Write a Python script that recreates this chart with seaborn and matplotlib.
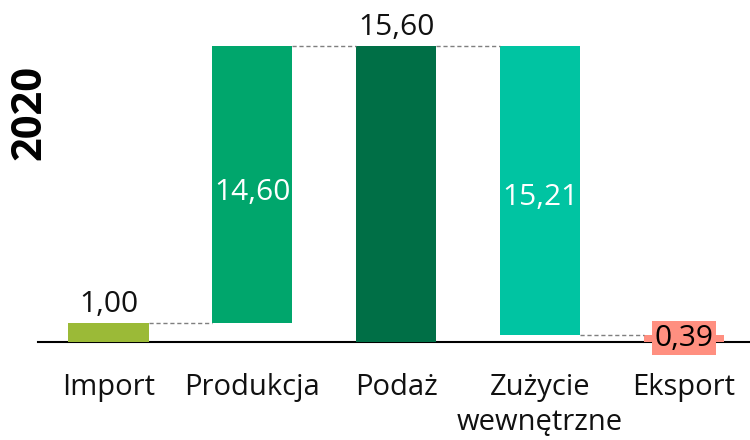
import matplotlib
matplotlib.use("Agg")
import matplotlib.pyplot as plt
import seaborn as sns

# dane bilansu (2020)
kategorie = ["Import", "Produkcja", "Podaż", "Zużycie\nwewnętrzne", "Eksport"]
wysokosci = [1.00, 14.60, 15.60, 15.21, 0.39]
podstawy = [0.00, 1.00, 0.00, 0.39, 0.00]
etykiety = ["1,00", "14,60", "15,60", "15,21", "0,39"]
kolory = ["#9BBA37", "#00A66C", "#006F46", "#00C4A2", "#FF8F80"]
rok = "2020"


def main():
    sns.set_theme(style="white")
    plt.rcParams["font.family"] = ["Open Sans", "DejaVu Sans"]

    fig = plt.figure(figsize=(7.5, 4.4), dpi=100)
    ax = fig.add_axes([38 / 750, 98 / 440, 712 / 750, 342 / 440])

    szer = 0.557
    sns.barplot(x=kategorie, y=wysokosci, bottom=podstawy, width=szer,
                color="gray", ax=ax, linewidth=0)
    for patch, kol in zip(ax.patches, kolory):
        patch.set_facecolor(kol)
        patch.set_edgecolor("none")

    ax.set_xlim(-0.49, 4.46)
    ax.set_ylim(0, 18.03)

    # linie łączące
    for i in range(len(wysokosci) - 1):
        if i == 3:
            poziom = podstawy[i]
        else:
            poziom = podstawy[i] + wysokosci[i]
        ax.plot([i + szer / 2, i + 1 - szer / 2], [poziom, poziom],
                color="#7F7F7F", linestyle=(0, (3, 2)), linewidth=1)

    # etykiety wartości
    for i, (h, b, lab) in enumerate(zip(wysokosci, podstawy, etykiety)):
        if i in (1, 3):
            ax.text(i, b + h / 2 - 0.4, lab, ha="center", va="center",
                    color="white", fontsize=21.5)
        elif i == 4:
            ax.text(i, b + h / 2, lab, ha="center", va="center",
                    color="black", fontsize=21.5, clip_on=False,
                    bbox=dict(boxstyle="square,pad=0.08", fc=kolory[4], ec="none"))
        else:
            ax.annotate(lab, (i, b + h), xytext=(0, 3), textcoords="offset points",
                        ha="center", va="bottom", fontsize=21.5, color="#111111")

    ax.set_yticks([])
    ax.set_ylabel("")
    ax.tick_params(axis="x", length=0, pad=22, labelsize=21, labelcolor="#111111")
    for t in ax.get_xticklabels():
        t.set_linespacing(1.3)
        t.set_verticalalignment("top")
    for s in ["top", "right", "left"]:
        ax.spines[s].set_visible(False)
    ax.spines["bottom"].set_color("black")
    ax.spines["bottom"].set_linewidth(1.5)
    ax.spines["bottom"].set_zorder(0.5)

    fig.text(30 / 750, 1 - 112 / 440, rok, rotation=90, ha="center", va="center",
             fontsize=30, fontweight="bold", color="black")

    fig.savefig("out.png", dpi=100)


if __name__ == "__main__":
    main()
